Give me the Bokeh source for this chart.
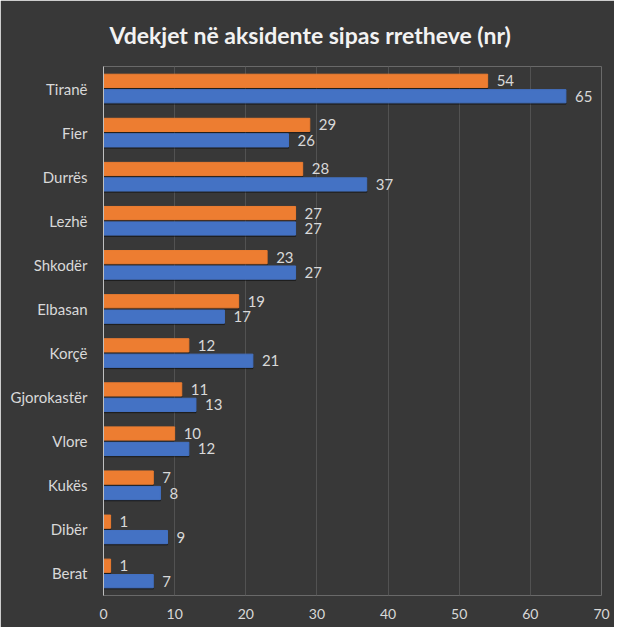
from bokeh.plotting import figure
from bokeh.models import ColumnDataSource, FactorRange, Range1d
from bokeh.core.properties import value
from bokeh.transform import dodge
from bokeh.embed import file_html
from bokeh.resources import INLINE

cities = ["Tiranë", "Fier", "Durrës", "Lezhë", "Shkodër", "Elbasan", "Korçë",
          "Gjorokastër", "Vlore", "Kukës", "Dibër", "Berat"]
orange_vals = [54, 29, 28, 27, 23, 19, 12, 11, 10, 7, 1, 1]
blue_vals = [65, 26, 37, 27, 27, 17, 21, 13, 12, 8, 9, 7]
x_ticks = [0, 10, 20, 30, 40, 50, 60, 70]

src = ColumnDataSource(dict(
    city=cities, o=orange_vals, b=blue_vals,
    ol=[str(v) for v in orange_vals], bl=[str(v) for v in blue_vals],
))

BG = "#383838"
TXT = "#d9d9d9"

p = figure(width=614, height=627, output_backend="svg", toolbar_location=None,
           y_range=FactorRange(*list(reversed(cities))), x_range=Range1d(0, 70),
           min_border_left=103, min_border_right=13, min_border_top=65, min_border_bottom=32,
           background_fill_color=BG, border_fill_color=BG, outline_line_color=None,
           title="Vdekjet në aksidente sipas rretheve (nr)")

p.title.align = "left"
p.title.text_color = "#f2f2f2"
p.title.text_font = "Lato"
p.title.text_font_size = "23px"
p.title.text_font_style = "bold"
p.title.offset = 6
p.title.standoff = 36

# shadows
p.hbar(y=dodge("city", 0.145, range=p.y_range), right="o", left=0, height=0.3,
       color="black", alpha=0.35, source=src)
p.hbar(y=dodge("city", -0.205, range=p.y_range), right="b", left=0, height=0.3,
       color="black", alpha=0.35, source=src)

p.hbar(y=dodge("city", 0.175, range=p.y_range), right="o", left=0, height=0.3,
       color="#ED7D31", source=src)
p.hbar(y=dodge("city", -0.175, range=p.y_range), right="b", left=0, height=0.3,
       color="#4472C4", source=src)

p.text(x="o", y=dodge("city", 0.175, range=p.y_range), text="ol", source=src,
       x_offset=9, text_baseline="middle", text_align="left",
       text_font_size="15px", text_color=TXT, text_font=value("Lato"))
p.text(x="b", y=dodge("city", -0.175, range=p.y_range), text="bl", source=src,
       x_offset=9, text_baseline="middle", text_align="left",
       text_font_size="15px", text_color=TXT, text_font=value("Lato"))

p.xgrid.grid_line_color = "#525252"
p.xgrid.grid_line_width = 1
p.ygrid.grid_line_color = None

p.xaxis.ticker = x_ticks
p.xaxis.axis_line_color = None
p.xaxis.major_tick_line_color = None
p.xaxis.minor_tick_line_color = None
p.xaxis.major_label_text_color = TXT
p.xaxis.major_label_text_font = "Lato"
p.xaxis.major_label_text_font_size = "14px"
p.xaxis.major_label_standoff = 7

p.yaxis.axis_line_color = "#bfbfbf"
p.yaxis.axis_line_width = 1
p.yaxis.major_tick_line_color = None
p.yaxis.minor_tick_line_color = None
p.yaxis.major_label_text_color = TXT
p.yaxis.major_label_text_font = "Lato"
p.yaxis.major_label_text_font_size = "15px"
p.yaxis.major_label_standoff = 10

open("out.html", "w").write(file_html(p, INLINE))
